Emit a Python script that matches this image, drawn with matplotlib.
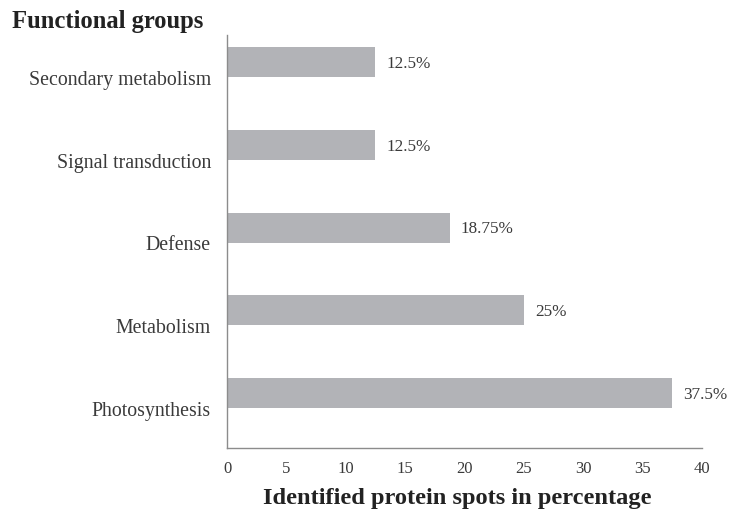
import matplotlib
matplotlib.use("Agg")
import matplotlib.pyplot as plt
import numpy as np

# Functional classification of identified protein spots
categories = ["Photosynthesis", "Metabolism", "Defense", "Signal transduction", "Secondary metabolism"]
percentages = [37.5, 25, 18.75, 12.5, 12.5]
value_labels = ["37.5%", "25%", "18.75%", "12.5%", "12.5%"]
xticks = [0, 5, 10, 15, 20, 25, 30, 35, 40]

plt.rcParams["font.family"] = ["Liberation Serif", "DejaVu Serif"]

fig = plt.figure(figsize=(7.29, 5.14), dpi=100)
ax = fig.add_axes([0.3114, 0.1284, 0.6516, 0.8035])

text_color = "#3a3a3a"
bar_color = "#b2b3b7"
spine_color = "#8c8c8c"

y = np.arange(len(categories))
ax.barh(y, percentages, height=0.36, color=bar_color)

for yi, v, lab in zip(y, percentages, value_labels):
    ax.text(v + 0.95, yi - 0.02, lab, va="center", ha="left", fontsize=12.3, color=text_color)

ax.set_xlim(0, 40)
ax.set_ylim(-0.665, 4.33)
ax.set_xticks(xticks)
ax.set_xticklabels([str(t) for t in xticks], fontsize=12, color=text_color)
ax.set_yticks(y - 0.19)
ax.set_yticklabels(categories, fontsize=14.3, color=text_color)
ax.tick_params(axis="both", length=0)
ax.tick_params(axis="x", pad=9)
ax.tick_params(axis="y", pad=11.5)

for side in ("top", "right"):
    ax.spines[side].set_visible(False)
for side in ("left", "bottom"):
    ax.spines[side].set_color(spine_color)
    ax.spines[side].set_linewidth(1.0)

ax.set_xlabel("Identified protein spots in percentage", fontsize=17.6, fontweight="bold",
              color="#222222", labelpad=8, x=0.484)
fig.text(0.016, 0.9455, "Functional groups", fontsize=17.7, fontweight="bold",
         color="#222222", ha="left", va="baseline")

fig.savefig("out.png", dpi=100)
